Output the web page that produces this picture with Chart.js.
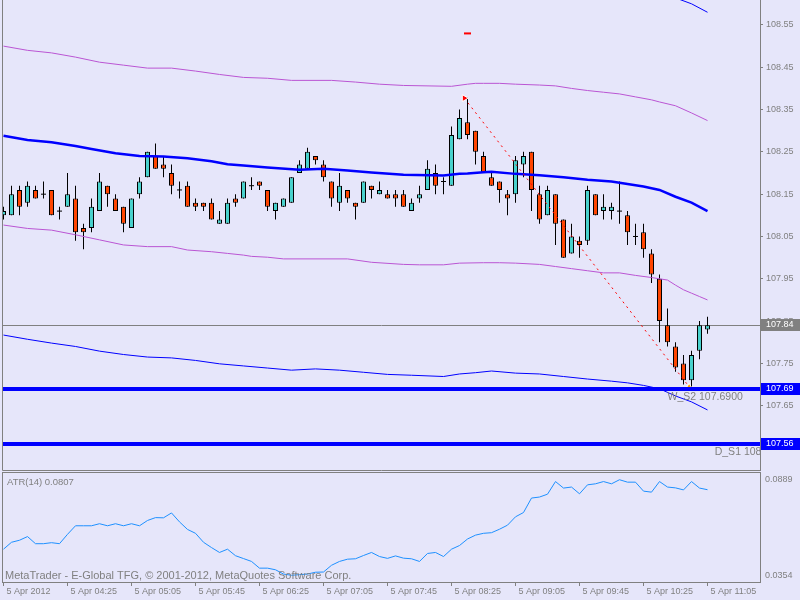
<!DOCTYPE html>
<html>
<head>
<meta charset="utf-8">
<script src="https://cdn.jsdelivr.net/npm/chart.js@4"></script>
<style>
  body { margin: 0; background: #e6e6fa; width: 800px; height: 600px; overflow: hidden; position: relative; }
  canvas { position: absolute; left: 0; }
  #main { top: 0; }
  #atr { top: 471px; }
</style>
</head>
<body>
<canvas id="main" width="800" height="471"></canvas>
<canvas id="atr" width="800" height="129"></canvas>
<script>
// USDJPY M5, 5 Apr 2012 03:45 .. 11:05 (89 bars)
const open = [108.10,108.10,108.16,108.13,108.16,108.15,108.16,108.11,108.12,108.14,
  108.07,108.07,108.11,108.17,108.14,108.12,108.07,108.15,108.19,108.24,
  108.22,108.20,108.16,108.17,108.13,108.13,108.13,108.08,108.08,108.14,
  108.14,108.17,108.18,108.16,108.11,108.12,108.13,108.20,108.21,108.24,
  108.22,108.18,108.13,108.16,108.13,108.13,108.17,108.15,108.15,108.15,
  108.15,108.11,108.14,108.16,108.20,108.18,108.17,108.28,108.32,108.30,
  108.24,108.19,108.18,108.15,108.15,108.22,108.25,108.15,108.10,108.15,
  108.09,108.01,108.04,108.04,108.15,108.11,108.11,108.11,108.10,108.05,
  108.06,108.01,107.95,107.84,107.79,107.75,107.71,107.78,107.83];
const high = [108.12,108.17,108.17,108.18,108.17,108.18,108.16,108.12,108.20,108.17,
  108.08,108.14,108.20,108.17,108.15,108.12,108.14,108.19,108.25,108.27,
  108.24,108.22,108.18,108.18,108.14,108.13,108.14,108.11,108.14,108.15,
  108.18,108.19,108.18,108.16,108.13,108.14,108.19,108.23,108.26,108.24,
  108.23,108.18,108.20,108.16,108.13,108.18,108.17,108.18,108.16,108.16,
  108.16,108.14,108.17,108.23,108.22,108.19,108.31,108.35,108.38,108.30,
  108.25,108.20,108.18,108.16,108.24,108.25,108.25,108.17,108.17,108.15,
  108.09,108.08,108.05,108.17,108.15,108.15,108.13,108.18,108.11,108.08,
  108.08,108.02,107.96,107.88,107.80,107.77,107.78,107.85,107.86];
const low = [108.09,108.10,108.10,108.12,108.14,108.14,108.10,108.09,108.12,108.04,
  108.02,108.06,108.11,108.12,108.11,108.06,108.07,108.14,108.19,108.21,
  108.19,108.15,108.14,108.12,108.11,108.11,108.09,108.08,108.08,108.12,
  108.14,108.16,108.16,108.11,108.09,108.12,108.13,108.20,108.21,108.22,
  108.18,108.12,108.11,108.13,108.09,108.13,108.14,108.15,108.14,108.12,
  108.12,108.11,108.13,108.16,108.15,108.15,108.17,108.28,108.28,108.22,
  108.20,108.17,108.13,108.10,108.13,108.19,108.11,108.08,108.10,108.03,
  108.00,108.01,108.00,108.03,108.10,108.09,108.09,108.08,108.03,108.03,
  108.00,107.94,107.80,107.79,107.73,107.70,107.69,107.76,107.82];
const close = [108.11,108.15,108.12,108.17,108.14,108.15,108.10,108.11,108.15,108.06,
  108.06,108.12,108.18,108.15,108.11,108.08,108.14,108.18,108.25,108.21,
  108.21,108.17,108.16,108.12,108.12,108.12,108.09,108.09,108.13,108.13,
  108.18,108.17,108.17,108.12,108.13,108.14,108.19,108.22,108.25,108.23,
  108.19,108.14,108.17,108.14,108.12,108.18,108.16,108.16,108.14,108.14,
  108.12,108.13,108.15,108.21,108.17,108.18,108.29,108.33,108.29,108.25,
  108.20,108.17,108.16,108.14,108.23,108.24,108.16,108.09,108.16,108.08,
  108.00,108.05,108.03,108.16,108.10,108.12,108.12,108.11,108.06,108.05,
  108.02,107.96,107.85,107.80,107.74,107.71,107.77,107.84,107.84];

// indicator lines, read at some bars
const maBars = [0,3,6,9,11,14,17,20,23,26,28,30,33,37,40,43,46,50,55,57,58,60,61,64,67,70,73,76,78,80,82,84,86,88];
const maValues = [108.288,108.278,108.273,108.264,108.257,108.247,108.240,108.239,108.235,108.228,108.221,108.218,108.213,108.208,108.210,108.206,108.201,108.196,108.194,108.198,108.199,108.202,108.203,108.198,108.195,108.190,108.184,108.180,108.174,108.168,108.160,108.144,108.130,108.110];
const outerUpBars = [82,84,86,88];
const outerUpValues = [108.630,108.614,108.600,108.580];
const outerDnBars = [0,3,6,9,12,15,18,21,24,27,30,33,36,39,42,45,48,51,55,57,59,61,64,67,70,73,76,78,80,82,84,86,88];
const outerDnValues = [107.817,107.807,107.798,107.790,107.779,107.771,107.765,107.763,107.757,107.749,107.744,107.739,107.734,107.737,107.734,107.729,107.724,107.722,107.719,107.725,107.728,107.732,107.727,107.725,107.719,107.713,107.708,107.704,107.698,107.690,107.673,107.659,107.640];
const innerUpBars = [0,3,6,9,12,15,18,21,24,27,30,33,36,41,44,47,50,56,58,59,60,62,64,67,69,71,73,75,77,79,81,82,84,86,88];
const innerUpValues = [108.500,108.490,108.484,108.474,108.462,108.455,108.448,108.448,108.441,108.433,108.426,108.424,108.419,108.419,108.415,108.410,108.407,108.405,108.410,108.412,108.412,108.412,108.410,108.408,108.406,108.400,108.395,108.391,108.387,108.380,108.373,108.368,108.359,108.342,108.324];
const innerDnBars = [0,3,6,9,12,15,18,21,23,26,28,30,31,33,35,43,46,50,52,55,57,60,62,64,67,69,71,73,75,77,79,81,83,84,85,86,87,88];
const innerDnValues = [108.077,108.069,108.065,108.054,108.042,108.030,108.026,108.026,108.018,108.014,108.010,108.006,108.003,108.001,107.997,107.997,107.989,107.984,107.983,107.983,107.987,107.988,107.988,107.987,107.984,107.979,107.974,107.969,107.964,107.964,107.958,107.953,107.947,107.935,107.924,107.916,107.908,107.900];

const atr = [0.0515,0.0549,0.0559,0.0577,0.0542,0.0542,0.0547,0.0542,0.0588,0.0630,
  0.0630,0.0630,0.0640,0.0630,0.0640,0.0630,0.0640,0.0630,0.0656,0.0670,
  0.0669,0.0693,0.0649,0.0612,0.0593,0.0549,0.0523,0.0499,0.0515,0.0483,
  0.0469,0.0455,0.0422,0.0422,0.0414,0.0393,0.0387,0.0390,0.0393,0.0402,
  0.0403,0.0436,0.0455,0.0466,0.0468,0.0484,0.0499,0.0479,0.0470,0.0482,
  0.0471,0.0468,0.0455,0.0494,0.0499,0.0479,0.0515,0.0533,0.0565,0.0584,
  0.0593,0.0596,0.0613,0.0633,0.0674,0.0695,0.0766,0.0771,0.0785,0.0847,
  0.0815,0.0820,0.0787,0.0831,0.0836,0.0847,0.0836,0.0856,0.0844,0.0844,
  0.0800,0.0795,0.0847,0.0820,0.0816,0.0806,0.0847,0.0815,0.0807];

const trendBars = [57.6, 85.7];
const trendPrices = [108.377, 107.695];
const dashBar = 58, dashPrice = 108.53;

const priceTicks = [107.55,107.65,107.75,107.85,107.95,108.05,108.15,108.25,108.35,108.45,108.55];
const labelBars = [0,8,16,24,32,40,48,56,64,72,80,88];
const timeLabels = ['5 Apr 2012','5 Apr 04:25','5 Apr 05:05','5 Apr 05:45','5 Apr 06:25','5 Apr 07:05',
  '5 Apr 07:45','5 Apr 08:25','5 Apr 09:05','5 Apr 09:45','5 Apr 10:25','5 Apr 11:05'];

const levels = [107.69, 107.56];
const levelNames = ['W_S2 107.6900', 'D_S1 108'];
const levelNameBars = [83, 88.9];
const bidPrice = 107.84;

const GRAY = '#808080';
const BULL = '#48d1cc', BEAR = '#ff4500';
const FONT = "'Liberation Sans', Arial, sans-serif";
const X_MIN = -0.0625, X_MAX = 94.5625;

const pts = (xs, ys) => xs.map((x, i) => ({ x: x, y: ys[i] }));

// split candles into bodies, dojis and wicks
const bodies = [], dojis = [], wicks = [];
open.forEach((o, i) => {
  wicks.push({ x: i, y: [low[i], high[i]] });
  if (o === close[i]) dojis.push({ x: i, y: o });
  else bodies.push({ x: i, y: [o, close[i]] });
});

const line = (data, color, width) => ({
  type: 'line', data: data, borderColor: color, borderWidth: width,
  pointRadius: 0, tension: 0, fill: false
});

const mainDecor = {
  id: 'mainDecor',
  beforeDatasetsDraw(chart) {
    const { ctx, chartArea: a, scales: { y } } = chart;
    const py = Math.round(y.getPixelForValue(bidPrice)) + 0.5;
    ctx.save();
    ctx.strokeStyle = GRAY;
    ctx.lineWidth = 1;
    ctx.beginPath();
    ctx.moveTo(a.left, py); ctx.lineTo(a.right, py);
    ctx.stroke();
    ctx.restore();
  },
  afterDatasetsDraw(chart) {
    const { ctx, chartArea: a, scales: { x, y } } = chart;
    ctx.save();
    ctx.beginPath();
    ctx.rect(a.left, a.top, a.width, a.height);
    ctx.clip();
    ctx.fillStyle = '#0000ff';
    levels.forEach(v => {
      const py = Math.round(y.getPixelForValue(v));
      ctx.fillRect(a.left, py - 2, a.width, 4);
    });
    ctx.fillStyle = GRAY;
    ctx.font = '10.5px ' + FONT;
    ctx.textBaseline = 'middle';
    levels.forEach((v, i) => {
      ctx.fillText(levelNames[i], x.getPixelForValue(levelNameBars[i]), y.getPixelForValue(v) + 8);
    });
    ctx.restore();
  },
  afterDraw(chart) {
    const { ctx, chartArea: a, scales: { y } } = chart;
    ctx.save();
    ctx.strokeStyle = GRAY;
    ctx.lineWidth = 1;
    ctx.beginPath();
    ctx.moveTo(a.left - 0.5, 0);
    ctx.lineTo(a.left - 0.5, a.bottom + 0.5);
    ctx.lineTo(a.right + 0.5, a.bottom + 0.5);
    ctx.stroke();
    const boxes = [[bidPrice, GRAY], [levels[0], '#0000ff'], [levels[1], '#0000ff']];
    ctx.font = '9px ' + FONT;
    ctx.textBaseline = 'middle';
    boxes.forEach(([v, c]) => {
      const py = Math.round(y.getPixelForValue(v));
      ctx.fillStyle = c;
      ctx.fillRect(a.right + 1, py - 6, 800 - a.right - 1, 12);
      ctx.fillStyle = '#ffffff';
      ctx.fillText(v.toFixed(2), a.right + 6, py);
    });
    ctx.restore();
  }
};

new Chart(document.getElementById('main'), {
  type: 'bar',
  data: {
    datasets: [
      {
        type: 'line', data: pts(trendBars, trendPrices), borderColor: '#ff0000', borderWidth: 1,
        borderDash: [2, 4], tension: 0, pointStyle: 'triangle', rotation: [90, 0], pointRadius: [4, 3.5],
        pointBackgroundColor: ['#ff0000', '#ffa500'], pointBorderColor: '#ffffff', pointBorderWidth: 1
      },
      {
        type: 'line', data: [{ x: dashBar, y: dashPrice }], showLine: false, pointStyle: 'line',
        pointRadius: 3.5, pointBorderColor: '#ff0000', pointBorderWidth: 2
      },
      line(pts(maBars, maValues), '#0000ff', 2.5),
      line(pts(outerUpBars, outerUpValues), '#0000ff', 1),
      line(pts(outerDnBars, outerDnValues), '#0000ff', 1),
      line(pts(innerUpBars, innerUpValues), '#ba55d3', 1),
      line(pts(innerDnBars, innerDnValues), '#ba55d3', 1),
      {
        type: 'bar', data: bodies, stack: 'c', barThickness: 5, inflateAmount: 0,
        backgroundColor: c => (c.raw && c.raw.y[1] > c.raw.y[0]) ? BULL : BEAR,
        borderColor: '#000000', borderWidth: 1, borderSkipped: false
      },
      {
        type: 'line', data: dojis, showLine: false, pointStyle: 'line',
        pointRadius: 2.5, pointBorderColor: '#000000', pointBorderWidth: 1
      },
      {
        type: 'bar', data: wicks, stack: 'c', barThickness: 1, inflateAmount: 0,
        backgroundColor: '#000000', borderWidth: 0
      }
    ]
  },
  options: {
    responsive: false,
    animation: false,
    layout: { autoPadding: false, padding: { left: 3, right: 0, top: 0, bottom: 1 } },
    plugins: { legend: { display: false }, tooltip: { enabled: false } },
    scales: {
      x: { type: 'linear', min: X_MIN, max: X_MAX, offset: false, display: false },
      y: {
        type: 'linear', position: 'right', min: 107.498, max: 108.609, stacked: false,
        afterBuildTicks: s => { s.ticks = priceTicks.map(v => ({ value: v })); },
        afterFit: s => { s.width = 40; s.paddingTop = 0; s.paddingBottom = 0; },
        ticks: { callback: v => v.toFixed(2), color: GRAY, padding: 3, font: { family: FONT, size: 9 } },
        grid: { drawOnChartArea: false, tickLength: 3, color: GRAY },
        border: { color: GRAY }
      }
    }
  },
  plugins: [mainDecor]
});

const atrDecor = {
  id: 'atrDecor',
  afterDraw(chart) {
    const { ctx, chartArea: a } = chart;
    ctx.save();
    ctx.strokeStyle = GRAY;
    ctx.lineWidth = 1;
    ctx.strokeRect(a.left - 0.5, a.top - 0.5, a.width + 1, a.height + 1);
    ctx.fillStyle = GRAY;
    ctx.textBaseline = 'middle';
    ctx.font = '9.5px ' + FONT;
    ctx.fillText('ATR(14) ' + atr[atr.length - 1].toFixed(4), a.left + 4, a.top + 9.5);
    ctx.font = '9px ' + FONT;
    ctx.fillText('0.0889', a.right + 5, a.top + 7);
    ctx.fillText('0.0354', a.right + 5, a.bottom - 6);
    ctx.textBaseline = 'alphabetic';
    ctx.font = '11px ' + FONT;
    ctx.fillText('MetaTrader - E-Global TFG, \u00a9 2001-2012, MetaQuotes Software Corp.', a.left + 2, a.bottom - 3);
    ctx.restore();
  }
};

new Chart(document.getElementById('atr'), {
  type: 'line',
  data: {
    datasets: [{
      data: atr.map((v, i) => ({ x: i, y: v })), borderColor: '#1e90ff', borderWidth: 1,
      pointRadius: 0, tension: 0, fill: false
    }]
  },
  options: {
    responsive: false,
    animation: false,
    layout: { autoPadding: false, padding: { left: 3, right: 40, top: 2, bottom: 0 } },
    plugins: { legend: { display: false }, tooltip: { enabled: false } },
    scales: {
      x: {
        type: 'linear', min: X_MIN, max: X_MAX, offset: false,
        afterBuildTicks: s => { s.ticks = labelBars.map(v => ({ value: v })); },
        afterFit: s => { s.height = 18; s.paddingLeft = 0; s.paddingRight = 0; },
        ticks: {
          autoSkip: false, maxRotation: 0, align: 'start', labelOffset: 3, padding: 0,
          color: GRAY, font: { family: FONT, size: 9 }, callback: (v, i) => timeLabels[i]
        },
        grid: { drawOnChartArea: false, tickLength: 4, color: GRAY },
        border: { display: false }
      },
      y: { display: false, min: 0.0354, max: 0.0889 }
    }
  },
  plugins: [atrDecor]
});
</script>
</body>
</html>
